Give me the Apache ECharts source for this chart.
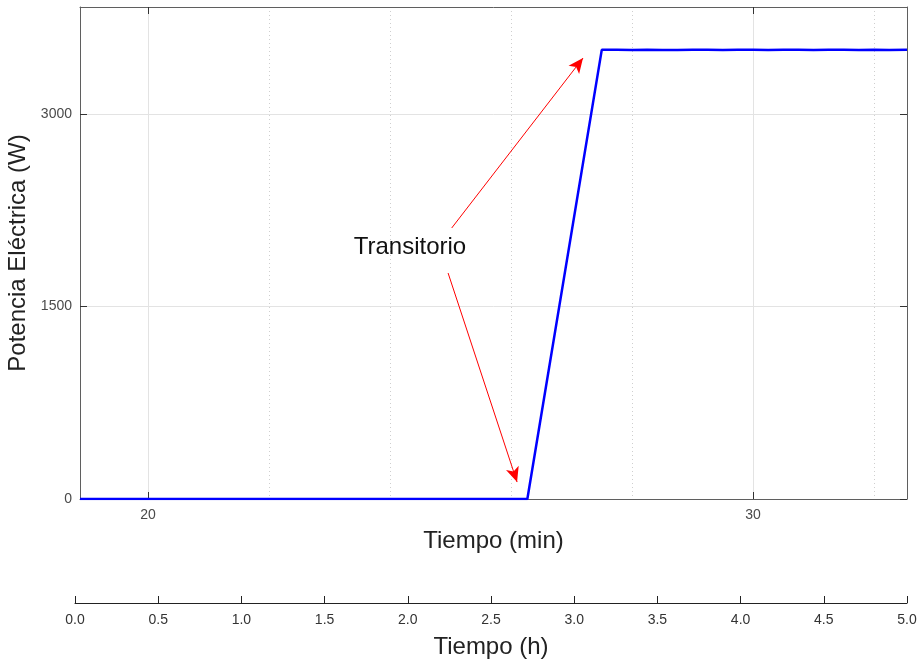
<!DOCTYPE html>
<html>
<head>
<meta charset="utf-8">
<script src="https://cdn.jsdelivr.net/npm/echarts@6/dist/echarts.min.js"></script>
<style>html,body{margin:0;padding:0;background:#fff}#c{width:921px;height:662px}</style>
</head>
<body>
<div id="c"></div>
<script>
// ---- data (time in minutes, electric power in W) ----
const timeMin = [18.876, 20, 22, 24, 26, 26.27, 27.5, 27.75, 28.0, 28.25, 28.5, 28.75, 29.0, 29.25, 29.5, 29.75, 30.0, 30.25, 30.5, 30.75, 31.0, 31.25, 31.5, 31.75, 32.0, 32.25, 32.545];
const powerW  = [0, 0, 0, 0, 0, 0, 3500, 3501, 3499, 3500, 3499, 3498, 3501, 3500, 3499, 3501, 3500, 3499, 3500, 3501, 3499, 3500, 3501, 3499, 3500, 3499, 3500];
const xMin = 18.876, xMax = 32.545;
const yMax = 3834;
const xMajorTicks = [20, 30];
const xMinorGrid = [22, 24, 26, 28, 32];
const yTicks = [0, 1500, 3000];
const hourTicks = [0, 0.5, 1, 1.5, 2, 2.5, 3, 3.5, 4, 4.5, 5];
// annotation (data coordinates)
const annotText = 'Transitorio';
const annotPos = [24.33, 1964];
const arrows = [
  [[25.02, 2112], [27.19, 3436]],
  [[24.96, 1761], [26.10, 132]]
];

const FONT = 'Liberation Sans, Arial, Helvetica, sans-serif';
const boxColor = '#5f5f5f';
const lblColor = '#4a4a4a';

const chart = echarts.init(document.getElementById('c'), null, {renderer: 'canvas'});
const lineData = timeMin.map((t, i) => [t, powerW[i]]);

const gridBase = {show: false, containLabel: false, outerBoundsMode: 'none'};
const option = {
  animation: false,
  backgroundColor: '#fff',
  grid: [
    Object.assign({left: 80, right: 14, top: 7, bottom: 163}, gridBase),
    Object.assign({left: 75, right: 14, bottom: 59, height: 1}, gridBase),
    Object.assign({left: 80, right: 14, top: 7, bottom: 163}, gridBase)
  ],
  xAxis: [
    { // main bottom axis
      type: 'value', gridIndex: 0, position: 'bottom', min: xMin, max: xMax,
      name: 'Tiempo (min)', nameLocation: 'middle', nameGap: 30,
      nameTextStyle: {fontFamily: FONT, fontSize: 24, color: '#222'},
      axisLine: {show: true, onZero: false, lineStyle: {color: boxColor, width: 1}},
      axisTick: {show: true, inside: true, length: 7, customValues: xMajorTicks, lineStyle: {color: '#333'}},
      axisLabel: {show: true, customValues: xMajorTicks, margin: 9, fontFamily: FONT, fontSize: 14, color: lblColor},
      splitLine: {show: true, lineStyle: {color: '#e3e3e3', width: 1}}
    },
    { // top border axis
      type: 'value', gridIndex: 0, position: 'top', min: xMin, max: xMax,
      axisLine: {show: true, onZero: false, lineStyle: {color: boxColor, width: 1}},
      axisTick: {show: true, inside: true, length: 7, customValues: xMajorTicks, lineStyle: {color: '#333'}},
      axisLabel: {show: false, customValues: xMajorTicks},
      splitLine: {show: false}
    },
    { // minor dotted grid (own overlaid grid)
      type: 'value', gridIndex: 2, position: 'bottom', min: xMin, max: xMax,
      axisLine: {show: false, onZero: false},
      axisTick: {show: false, customValues: xMinorGrid},
      axisLabel: {show: false, customValues: xMinorGrid},
      splitLine: {show: true, lineStyle: {color: '#cfcfcf', width: 1, type: [1, 3]}}
    },
    { // hours axis
      type: 'value', gridIndex: 1, position: 'bottom', min: 0, max: 5, interval: 0.5,
      name: 'Tiempo (h)', nameLocation: 'middle', nameGap: 32,
      nameTextStyle: {fontFamily: FONT, fontSize: 24, color: '#222'},
      axisLine: {show: true, onZero: false, lineStyle: {color: '#222', width: 1}},
      axisTick: {show: true, inside: true, length: 7, customValues: hourTicks, lineStyle: {color: '#222'}},
      axisLabel: {show: true, customValues: hourTicks, margin: 10, fontFamily: FONT, fontSize: 14, color: '#333',
        formatter: v => v.toFixed(1)},
      splitLine: {show: false}
    }
  ],
  yAxis: [
    {
      type: 'value', gridIndex: 0, position: 'left', min: 0, max: yMax,
      name: 'Potencia Eléctrica (W)', nameLocation: 'middle', nameGap: 41,
      nameTextStyle: {fontFamily: FONT, fontSize: 24, color: '#222'},
      axisLine: {show: true, onZero: false, lineStyle: {color: boxColor, width: 1}},
      axisTick: {show: true, inside: true, length: 7, customValues: yTicks, lineStyle: {color: '#333'}},
      axisLabel: {show: true, customValues: yTicks, margin: 8, fontFamily: FONT, fontSize: 14, color: lblColor,
        formatter: v => String(v)},
      splitLine: {show: true, lineStyle: {color: '#e3e3e3', width: 1}}
    },
    {
      type: 'value', gridIndex: 0, position: 'right', min: 0, max: yMax,
      axisLine: {show: true, onZero: false, lineStyle: {color: boxColor, width: 1}},
      axisTick: {show: true, inside: true, length: 7, customValues: yTicks, lineStyle: {color: '#333'}},
      axisLabel: {show: false, customValues: yTicks},
      splitLine: {show: false}
    },
    {
      type: 'value', gridIndex: 1, min: 0, max: 1, show: false
    },
    {
      type: 'value', gridIndex: 2, min: 0, max: yMax, show: false
    }
  ],
  series: [
    {
      type: 'line', xAxisIndex: 0, yAxisIndex: 0, data: lineData,
      showSymbol: false, symbol: 'none', z: 5,
      lineStyle: {color: '#0000ff', width: 2.5},
      markLine: {
        silent: true, symbol: ['none', 'arrow'], symbolSize: [10, 15],
        label: {show: false},
        lineStyle: {color: '#ff0000', width: 1, type: 'solid'},
        data: arrows.map(a => [{coord: a[0]}, {coord: a[1]}])
      },
      markPoint: {
        silent: true, symbol: 'circle', symbolSize: 0,
        data: [{coord: annotPos}],
        label: {show: true, position: 'inside', formatter: annotText, fontFamily: FONT, fontSize: 24, color: '#111'}
      }
    },
    {type: 'line', xAxisIndex: 3, yAxisIndex: 2, data: [], symbol: 'none'},
    {type: 'line', xAxisIndex: 2, yAxisIndex: 3, data: [], symbol: 'none'}
  ]
};
chart.setOption(option);
</script>
</body>
</html>
